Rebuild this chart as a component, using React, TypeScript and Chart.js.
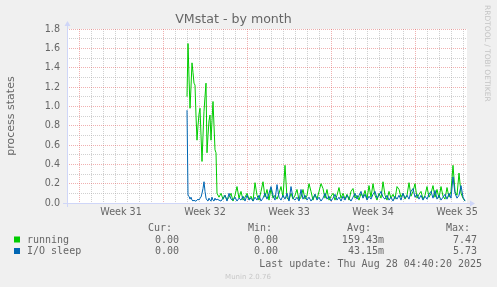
import React, { useEffect, useRef } from "react";
import { Chart, registerables } from "chart.js";

Chart.register(...registerables);

// ---- Data ----
const chartTitle = "VMstat - by month";
const yAxisTitle = "process states";
const weekLabels = ["Week 31", "Week 32", "Week 33", "Week 34", "Week 35"];
const firstWeekStartHour = 24;
const hoursPerWeek = 168;
const xMaxHours = 800;
const yMax = 1.8;

// dense section right after data collection started (2-hour samples)
const earlyStartHour = 240;
const earlyStepHours = 2;
const runningEarly = [
  1.1, 1.65, 1.3, 0.98, 1.2, 1.45, 1.35, 1.24, 1.22, 0.9, 0.65, 0.8, 0.92, 0.98, 0.7, 0.43,
  0.7, 0.95, 1.1, 1.24, 0.52, 0.7, 0.85, 0.91, 0.65, 0.85, 1.05, 0.8, 0.55, 0.52, 0.1,
];
const ioSleepEarly = [
  0.96, 0.08, 0.07, 0.04, 0.06, 0.03, 0.02, 0.03, 0.02, 0.02, 0.03, 0.04, 0.03, 0.05, 0.06, 0.1,
  0.15, 0.22, 0.12, 0.05, 0.03, 0.02, 0.05, 0.03, 0.02, 0.06, 0.03, 0.02, 0.05, 0.03, 0.04,
];

// remaining period (4-hour samples)
const lateStartHour = 304;
const lateStepHours = 4;
const runningLate = [
  0.06, 0.1, 0.04, 0.08, 0.03, 0.06, 0.1, 0.02, 0.08, 0.17, 0.05, 0.12, 0.03, 0.06, 0.1, 0.04,
  0.07, 0.02, 0.21, 0.08, 0.03, 0.12, 0.22, 0.06, 0.14, 0.03, 0.15, 0.05, 0.08, 0.04, 0.1, 0.17,
  0.06, 0.39, 0.05, 0.03, 0.1, 0.04, 0.08, 0.14, 0.03, 0.06, 0.14, 0.04, 0.08, 0.2, 0.12, 0.03,
  0.09, 0.04, 0.12, 0.2, 0.15, 0.05, 0.14, 0.03, 0.07, 0.1, 0.03, 0.08, 0.16, 0.05, 0.1, 0.04,
  0.09, 0.03, 0.12, 0.15, 0.05, 0.08, 0.03, 0.1, 0.06, 0.13, 0.04, 0.18, 0.06, 0.2, 0.08, 0.03,
  0.1, 0.05, 0.22, 0.08, 0.03, 0.12, 0.05, 0.09, 0.04, 0.17, 0.14, 0.06, 0.1, 0.04, 0.08, 0.21,
  0.07, 0.12, 0.2, 0.05, 0.09, 0.12, 0.04, 0.08, 0.17, 0.06, 0.1, 0.18, 0.06, 0.14, 0.05, 0.17,
  0.07, 0.04, 0.16, 0.06, 0.12, 0.39, 0.12, 0.08, 0.31, 0.1, 0.05, 0.02,
];
const ioSleepLate = [
  0.03, 0.02, 0.05, 0.08, 0.02, 0.1, 0.04, 0.03, 0.06, 0.02, 0.05, 0.03, 0.07, 0.02, 0.08, 0.03,
  0.05, 0.02, 0.06, 0.03, 0.08, 0.02, 0.05, 0.1, 0.04, 0.1, 0.17, 0.08, 0.03, 0.19, 0.06, 0.03,
  0.08, 0.04, 0.1, 0.02, 0.17, 0.05, 0.03, 0.06, 0.02, 0.14, 0.04, 0.08, 0.03, 0.06, 0.02, 0.05,
  0.09, 0.03, 0.06, 0.02, 0.05, 0.1, 0.04, 0.07, 0.02, 0.05, 0.09, 0.03, 0.06, 0.02, 0.07, 0.03,
  0.08, 0.05, 0.02, 0.06, 0.1, 0.04, 0.08, 0.12, 0.05, 0.09, 0.03, 0.07, 0.04, 0.09, 0.12, 0.05,
  0.08, 0.12, 0.06, 0.04, 0.08, 0.03, 0.06, 0.02, 0.07, 0.04, 0.08, 0.03, 0.1, 0.05, 0.08, 0.04,
  0.12, 0.15, 0.06, 0.09, 0.04, 0.08, 0.03, 0.07, 0.04, 0.09, 0.12, 0.05, 0.13, 0.04, 0.08, 0.03,
  0.06, 0.09, 0.04, 0.1, 0.05, 0.27, 0.1, 0.05, 0.08, 0.18, 0.06, 0.02,
];

const seriesNames = ["running", "I/O sleep"];
const seriesColors = ["#00cc00", "#0066b3"];
const legendHeaders = ["Cur:", "Min:", "Avg:", "Max:"];
const runningStats = ["0.00 ", "0.00 ", "159.43m", "7.47 "];
const ioSleepStats = ["0.00 ", "0.00 ", "43.15m", "5.73 "];
const lastUpdate = "Last update: Thu Aug 28 04:40:20 2025";
const footer = "Munin 2.0.76";
const watermark = "RRDTOOL / TOBI OETIKER";

// ---- Styles ----
const TEXT = "#666666";
const MINOR_GRID = "rgba(170,170,170,0.55)";
const MAJOR_GRID = "rgba(222,80,80,0.45)";
const AXIS_COLOR = "#cfd6f8";
const SANS = "'DejaVu Sans', sans-serif";
const MONO = "'DejaVu Sans Mono', monospace";

function toPoints(start: number, step: number, values: number[]) {
  return values.map((v, i) => ({ x: start + i * step, y: v }));
}

const runningData = [
  ...toPoints(earlyStartHour, earlyStepHours, runningEarly),
  ...toPoints(lateStartHour, lateStepHours, runningLate),
];
const ioSleepData = [
  ...toPoints(earlyStartHour, earlyStepHours, ioSleepEarly),
  ...toPoints(lateStartHour, lateStepHours, ioSleepLate),
];

const decorPlugin = {
  id: "muninDecor",
  beforeDraw(chart: any) {
    const { ctx, chartArea: a } = chart;
    ctx.save();
    ctx.fillStyle = "#f0f0f0";
    ctx.fillRect(0, 0, chart.width, chart.height);
    ctx.fillStyle = "#ffffff";
    ctx.fillRect(a.left, a.top, a.right - a.left, a.bottom - a.top);
    ctx.restore();
  },
  afterDatasetsDraw(chart: any) {
    const { ctx, chartArea: a } = chart;
    ctx.save();
    ctx.strokeStyle = AXIS_COLOR;
    ctx.fillStyle = AXIS_COLOR;
    ctx.lineWidth = 1;
    const yb = Math.round(a.bottom) + 0.5;
    const xl = Math.round(a.left) + 0.5;
    // x axis
    ctx.beginPath();
    ctx.moveTo(a.left - 4, yb);
    ctx.lineTo(a.right + 4, yb);
    ctx.stroke();
    ctx.beginPath();
    ctx.moveTo(a.right + 3, yb - 3);
    ctx.lineTo(a.right + 8, yb);
    ctx.lineTo(a.right + 3, yb + 3);
    ctx.closePath();
    ctx.fill();
    // y axis
    ctx.beginPath();
    ctx.moveTo(xl, a.bottom + 4);
    ctx.lineTo(xl, a.top - 4);
    ctx.stroke();
    ctx.beginPath();
    ctx.moveTo(xl - 3, a.top - 3);
    ctx.lineTo(xl, a.top - 8);
    ctx.lineTo(xl + 3, a.top - 3);
    ctx.closePath();
    ctx.fill();
    ctx.restore();
  },
  afterDraw(chart: any) {
    const { ctx } = chart;
    ctx.save();
    ctx.font = `10px ${MONO}`;
    ctx.fillStyle = TEXT;
    ctx.textBaseline = "alphabetic";
    // headers
    const headerRight = [172, 272, 371, 470];
    const valueRight = [185, 284, 384, 483];
    ctx.textAlign = "right";
    legendHeaders.forEach((h, i) => ctx.fillText(h, headerRight[i], 231));
    const rows = [runningStats, ioSleepStats];
    const rowY = [242.5, 254];
    rows.forEach((stats, r) => {
      ctx.fillStyle = seriesColors[r];
      ctx.fillRect(14, rowY[r] - 6, 6, 6);
      ctx.fillStyle = TEXT;
      ctx.textAlign = "left";
      ctx.fillText(seriesNames[r], 27, rowY[r]);
      ctx.textAlign = "right";
      stats.forEach((s, i) => ctx.fillText(s, valueRight[i], rowY[r]));
    });
    ctx.textAlign = "right";
    ctx.fillText(lastUpdate, 482, 266.5);
    // footer
    ctx.font = `7px ${SANS}`;
    ctx.fillStyle = "#c8c8c8";
    ctx.textAlign = "center";
    ctx.fillText(footer, 248, 279);
    // watermark
    ctx.translate(487, 5);
    ctx.rotate(Math.PI / 2);
    ctx.font = `7.5px ${SANS}`;
    ctx.fillStyle = "#c4c4c4";
    ctx.textAlign = "left";
    ctx.textBaseline = "middle";
    ctx.fillText(watermark, 0, 0);
    ctx.restore();
  },
};

export default function App() {
  const ref = useRef<HTMLCanvasElement | null>(null);

  useEffect(() => {
    if (!ref.current) return;
    const xTicks: number[] = [];
    for (let h = 0; h <= xMaxHours; h += 12) xTicks.push(h);
    const yTicks: number[] = [];
    for (let i = 0; i <= Math.round(yMax * 10); i++) yTicks.push(i / 10);

    const chart = new Chart(ref.current, {
      type: "line",
      data: {
        datasets: [
          {
            label: seriesNames[0],
            data: runningData,
            borderColor: seriesColors[0],
            backgroundColor: seriesColors[0],
            borderWidth: 1,
            pointRadius: 0,
            tension: 0,
            fill: false,
            order: 2,
          },
          {
            label: seriesNames[1],
            data: ioSleepData,
            borderColor: seriesColors[1],
            backgroundColor: seriesColors[1],
            borderWidth: 1,
            pointRadius: 0,
            tension: 0,
            fill: false,
            order: 1,
          },
        ],
      },
      options: {
        animation: false,
        responsive: false,
        devicePixelRatio: 1,
        events: [],
        layout: { padding: { left: 0, right: 30, top: 0, bottom: 0 } },
        plugins: {
          legend: { display: false },
          tooltip: { enabled: false },
          title: {
            display: true,
            text: chartTitle,
            color: TEXT,
            font: { family: SANS, size: 12.6, weight: "normal" },
            padding: { top: 12.4, bottom: 1.5 },
          },
        },
        scales: {
          x: {
            type: "linear",
            min: 0,
            max: xMaxHours,
            afterFit: (s: any) => {
              s.height = 84;
            },
            afterBuildTicks: (s: any) => {
              s.ticks = xTicks.map((v) => ({ value: v }));
            },
            border: { display: false, dash: [1, 1] },
            grid: {
              drawTicks: false,
              lineWidth: 1,
              color: (c: any) => {
                const h = c.tick ? c.tick.value : -1;
                if (h <= 0 || h >= xMaxHours || h % 24 !== 0) return "rgba(0,0,0,0)";
                return (h - firstWeekStartHour) % hoursPerWeek === 0 ? MAJOR_GRID : MINOR_GRID;
              },
            },
            ticks: {
              autoSkip: false,
              maxRotation: 0,
              padding: 4,
              color: TEXT,
              font: { family: SANS, size: 9.6 },
              callback: (v: any) => {
                const off = Number(v) - firstWeekStartHour - hoursPerWeek / 2;
                if (off >= 0 && off % hoursPerWeek === 0) {
                  return weekLabels[off / hoursPerWeek] ?? "";
                }
                return "";
              },
            },
          },
          y: {
            type: "linear",
            min: 0,
            max: yMax,
            afterFit: (s: any) => {
              s.width = 67;
            },
            afterBuildTicks: (s: any) => {
              s.ticks = yTicks.map((v) => ({ value: v }));
            },
            border: { display: false, dash: [1, 1] },
            grid: {
              drawTicks: false,
              lineWidth: 1,
              color: (c: any) => {
                const i = c.index;
                if (i === 0) return "rgba(0,0,0,0)";
                return i % 2 === 0 ? MAJOR_GRID : MINOR_GRID;
              },
            },
            ticks: {
              autoSkip: false,
              padding: 7,
              color: TEXT,
              font: { family: SANS, size: 9.6 },
              callback: (v: any, i: number) => (i % 2 === 0 ? Number(v).toFixed(1) : ""),
            },
            title: {
              display: true,
              text: yAxisTitle,
              color: TEXT,
              font: { family: SANS, size: 11, weight: "normal" },
              padding: { top: 4.4, bottom: 0 },
            },
          },
        },
      },
      plugins: [decorPlugin],
    } as any);
    return () => chart.destroy();
  }, []);

  return (
    <div
      style={{
        position: "absolute",
        left: 0,
        top: 0,
        width: 497,
        height: 287,
        background: "#f0f0f0",
      }}
    >
      <canvas ref={ref} width={497} height={287} style={{ display: "block" }} />
    </div>
  );
}
